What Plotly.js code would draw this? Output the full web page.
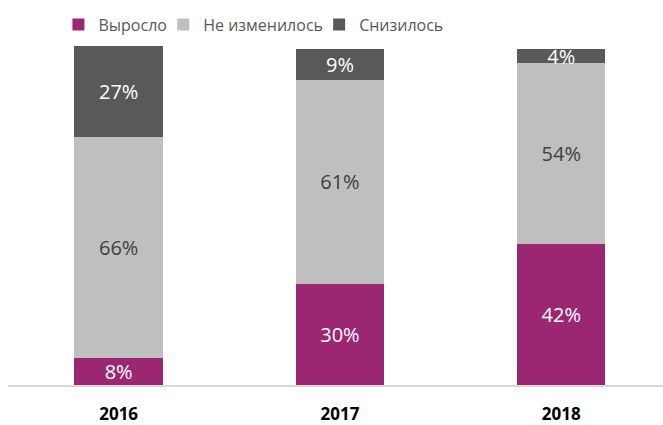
<!DOCTYPE html>
<html><head><meta charset="utf-8">
<script src="https://cdn.plot.ly/plotly-3.0.1.min.js"></script>
<style>html,body{margin:0;padding:0;background:#fff}</style>
</head><body><div id="chart" style="width:663px;height:425px"></div>
<script>
const years = ['2016', '2017', '2018'];
const grew = [8, 30, 42];
const same = [66, 61, 54];
const fell = [27, 9, 4];
const seriesNames = ['Выросло', 'Не изменилось', 'Снизилось'];

const colors = ['#9B2772', '#BFBFBF', '#595959'];
const textColors = ['#ffffff', '#404040', '#ffffff'];
const legendIds = ['legend', 'legend2', 'legend3'];
const legendX = [0.077, 0.237, 0.475];
const data = [grew, same, fell].map((vals, i) => ({
  type: 'bar', x: years, y: vals, name: seriesNames[i], legend: legendIds[i],
  marker: {color: colors[i]}, width: 0.4,
  text: vals.map(v => v + '%'), textposition: 'inside', insidetextanchor: 'middle',
  constraintext: 'none', textangle: 0,
  textfont: {color: textColors[i], size: 20, family: 'Open Sans'},
  hoverinfo: 'none'
}));
const layout = {
  width: 663, height: 425, barmode: 'stack', bargap: 0.6,
  margin: {l: 8, r: 0, t: 46, b: 40, autoexpand: false},
  paper_bgcolor: '#fff', plot_bgcolor: '#fff',
  font: {family: 'Open Sans', color: '#595959'},
  xaxis: {type: 'category', range: [-0.5, 2.46], showline: true, linecolor: '#D9D9D9', linewidth: 1.5,
          ticks: 'outside', ticklen: 13, tickcolor: 'rgba(0,0,0,0)',
          tickfont: {family: 'Open Sans', size: 17, color: '#000', weight: 'bold'}, fixedrange: true},
  yaxis: {range: [0, 101], visible: false, showgrid: false, zeroline: false},
  showlegend: true,
};
legendIds.forEach((id, i) => {
  layout[id] = {orientation: 'h', x: legendX[i], xanchor: 'left', yref: 'container', y: 0.942, yanchor: 'middle',
    font: {family: 'Open Sans', size: 16, color: '#595959'}, itemwidth: 30, bgcolor: 'rgba(0,0,0,0)'};
});
Plotly.newPlot('chart', data, layout, {staticPlot: true});
</script></body></html>
